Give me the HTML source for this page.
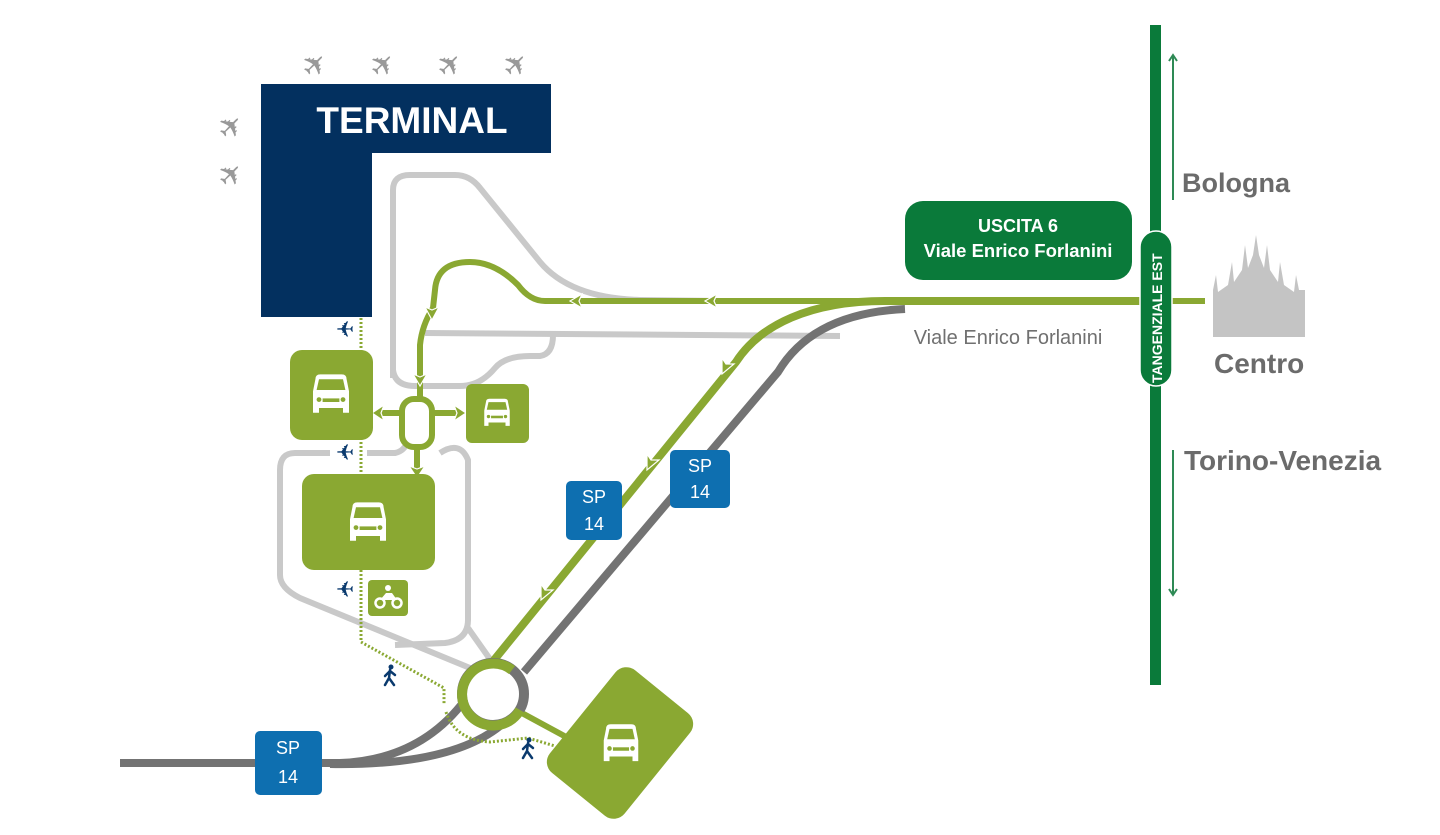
<!DOCTYPE html>
<html><head><meta charset="utf-8"><style>
html,body{margin:0;padding:0;background:#fff;}
svg{display:block;}
text{font-family:"Liberation Sans",sans-serif;}
</style></head><body>
<svg width="1440" height="835" viewBox="0 0 1440 835" xmlns="http://www.w3.org/2000/svg">
<defs>
<g id="car">
  <path d="M-13,-14 Q-13,-18 -9,-18 L9,-18 Q13,-18 13,-14 L15,-4 L15,14 L10,14 L10,10 L-10,10 L-10,14 L-15,14 L-15,-4 Z" fill="#fff"/>
  <path d="M-10,-14 L10,-14 L12,-5 L-12,-5 Z" fill="#8aa832"/>
  <rect x="-7" y="2" width="14" height="3" fill="#8aa832"/>
  <circle cx="-10" cy="3" r="2" fill="#8aa832"/><circle cx="10" cy="3" r="2" fill="#8aa832"/>
</g>
<g id="plane"><text x="0" y="0" font-size="30" fill="#999" text-anchor="middle" font-family="DejaVu Sans" transform="rotate(-45)">✈</text></g>
<g id="navyplane"><text x="0" y="7" font-size="22" fill="#0a3a6e" text-anchor="middle" font-family="DejaVu Sans" transform="scale(-1,1)">✈</text></g>
<g id="walk" fill="#0a3a6e" stroke="#0a3a6e" stroke-linecap="round">
  <circle cx="1" cy="-8" r="2.5" stroke="none"/>
  <path d="M0,-5 L-1,3 L-5,10 M-1,3 L4,10 M0,-4 L-5,1 M0,-4 L5,0" fill="none" stroke-width="2.5"/>
</g>
</defs>

<!-- light gray roads -->
<g fill="none" stroke="#c9c9c9" stroke-width="6" stroke-linejoin="round">
  <path d="M393,378 L393,190 Q393,175 410,175 L455,175 Q470,175 480,188 L540,262 Q570,298 640,300 L720,301"/>
  <path d="M425,333 L840,336"/>
  <path d="M393,370 Q395,386 415,386 L460,386 Q480,386 495,368 Q505,356 530,356 L540,356 Q553,354 553,335"/>
  <path d="M330,453 L295,453 Q280,453 280,470 L280,575 Q280,588 300,598 L470,668"/>
  <path d="M367,453 L395,453 Q405,451 408,440"/>
  <path d="M440,453 Q460,440 468,460 L468,620 Q468,640 445,643 L395,645"/>
  <path d="M468,628 L492,662"/>
</g>

<!-- dark gray roads -->
<g fill="none" stroke="#737373" stroke-width="8">
  <path d="M905,309 C840,312 800,335 778,372 L524,672"/>
  <path d="M120,763 L340,763 Q420,760 465,700"/>
  <path d="M330,764 Q450,766 500,726"/>
</g>

<!-- green routes -->
<g fill="none" stroke="#8aa832" stroke-linejoin="round">
  <path d="M1205,301 L545,301 Q530,301 518,285 Q495,262 470,262 Q437,262 435,290 L433,308 Q422,325 420,345 L420,400" stroke-width="6"/>
  <path d="M1140,301 L885,301 C810,301 760,325 736,362 L490,665" stroke-width="8"/>
  <rect x="402" y="399" width="30" height="48" rx="12" stroke-width="6" fill="#fff"/>
  <path d="M402,413 L378,413 M432,413 L458,413 M417,447 L417,472" stroke-width="6"/>
  <path d="M520,712 L568,738" stroke-width="6"/>
</g>
<!-- roundabout -->
<circle cx="493" cy="694" r="31" fill="none" stroke="#737373" stroke-width="10"/>
<path d="M512,670 A31,31 0 1,0 520,710" fill="none" stroke="#8aa832" stroke-width="10"/>

<!-- arrowheads -->
<g fill="#8aa832" stroke="#fff" stroke-width="1.2">
  <polygon points="372,413 384,405 381,413 384,421"/>
  <polygon points="466,413 454,405 457,413 454,421"/>
  <polygon points="417,478 409,466 417,469 425,466"/>
  <polygon points="570,301 582,294 579,301 582,308"/>
  <polygon points="705,301 717,294 714,301 717,308"/>
  <polygon points="432,320 425,307 432,310 439,307"/>
  <polygon points="420,386 413,374 420,377 427,374"/>
  <polygon points="722,374 722,358 726,364 734,364"/>
  <polygon points="647,470 647,454 651,460 659,460"/>
  <polygon points="541,600 541,584 545,590 553,590"/>
</g>

<!-- dotted walkways -->
<g fill="none" stroke="#8aa832" stroke-width="3" stroke-dasharray="2,2">
  <path d="M361,318 L361,642 L444,688 L444,705"/>
  <path d="M446,712 Q455,740 490,742 L528,738 L555,746"/>
</g>

<!-- terminal -->
<path d="M261,84 L551,84 L551,153 L372,153 L372,317 L261,317 Z" fill="#03305f"/>
<text x="412" y="133" font-size="37" font-weight="bold" fill="#fff" text-anchor="middle">TERMINAL</text>

<!-- planes -->
<use href="#plane" x="322" y="72"/><use href="#plane" x="390" y="72"/><use href="#plane" x="457" y="72"/><use href="#plane" x="523" y="72"/>
<use href="#plane" x="238" y="134"/><use href="#plane" x="238" y="182"/>

<!-- parkings -->
<rect x="290" y="350" width="83" height="90" rx="12" fill="#8aa832"/><g transform="translate(331,396) scale(1.2)"><use href="#car"/></g>
<rect x="466" y="384" width="63" height="59" rx="6" fill="#8aa832"/><g transform="translate(497,414) scale(0.85)"><use href="#car"/></g>
<rect x="302" y="474" width="133" height="96" rx="12" fill="#8aa832"/><g transform="translate(368,524) scale(1.2)"><use href="#car"/></g>
<rect x="368" y="580" width="40" height="36" rx="4" fill="#8aa832"/>
<g fill="none" stroke="#fff" stroke-width="2.5"><circle cx="380" cy="603" r="4.5"/><circle cx="397" cy="603" r="4.5"/></g>
<path d="M380,600 L386,593 L392,593 L397,600 Z" fill="#fff"/><circle cx="388" cy="588" r="3" fill="#fff"/>
<g transform="translate(620,743) rotate(39)"><rect x="-48" y="-66" width="96" height="132" rx="14" fill="#8aa832"/></g>
<g transform="translate(621,745) scale(1.15)"><use href="#car"/></g>

<!-- navy icons -->
<use href="#navyplane" x="345" y="330"/><use href="#navyplane" x="345" y="453"/><use href="#navyplane" x="345" y="590"/>
<use href="#walk" x="390" y="675"/><use href="#walk" x="528" y="748"/>

<!-- SP 14 -->
<g fill="#0e6fb0"><rect x="566" y="481" width="56" height="59" rx="5"/><rect x="670" y="450" width="60" height="58" rx="5"/><rect x="255" y="731" width="67" height="64" rx="5"/></g>
<g fill="#fff" font-size="18" text-anchor="middle">
<text x="594" y="503">SP</text><text x="594" y="530">14</text>
<text x="700" y="472">SP</text><text x="700" y="498">14</text>
<text x="288" y="754">SP</text><text x="288" y="783">14</text>
</g>

<!-- tangenziale -->
<rect x="1150" y="25" width="11" height="660" fill="#0a7a3a"/>
<rect x="1140" y="231" width="32" height="155" rx="16" fill="#0a7a3a" stroke="#fff" stroke-width="1.5"/>
<text transform="translate(1162,383) rotate(-90)" font-size="14" font-weight="bold" fill="#fff">TANGENZIALE EST</text>
<g stroke="#2e8a55" stroke-width="2" fill="none">
  <path d="M1173,200 L1173,56 M1169,61 L1173,55 L1177,61"/>
  <path d="M1173,450 L1173,594 M1169,589 L1173,595 L1177,589"/>
</g>
<rect x="905" y="201" width="227" height="79" rx="18" fill="#0a7a3a"/>
<text x="1018" y="232" font-size="18" font-weight="bold" fill="#fff" text-anchor="middle">USCITA 6</text>
<text x="1018" y="257" font-size="18.5" font-weight="bold" fill="#fff" text-anchor="middle">Viale Enrico Forlanini</text>

<text x="1008" y="344" font-size="20" fill="#707070" text-anchor="middle">Viale Enrico Forlanini</text>
<text x="1182" y="192" font-size="27" font-weight="bold" fill="#6b6b6b">Bologna</text>
<text x="1184" y="470" font-size="28" font-weight="bold" fill="#6b6b6b">Torino-Venezia</text>
<text x="1214" y="373" font-size="28" font-weight="bold" fill="#6b6b6b">Centro</text>

<!-- duomo -->
<path d="M1213,337 L1213,290 L1216,275 L1218,292 L1228,285 L1232,262 L1234,282 L1242,270 L1245,245 L1248,268 L1253,255 L1256,235 L1259,255 L1264,268 L1267,245 L1270,270 L1278,282 L1280,262 L1284,285 L1294,292 L1296,275 L1299,290 L1305,290 L1305,337 Z" fill="#c4c4c4"/>
</svg>
</body></html>
